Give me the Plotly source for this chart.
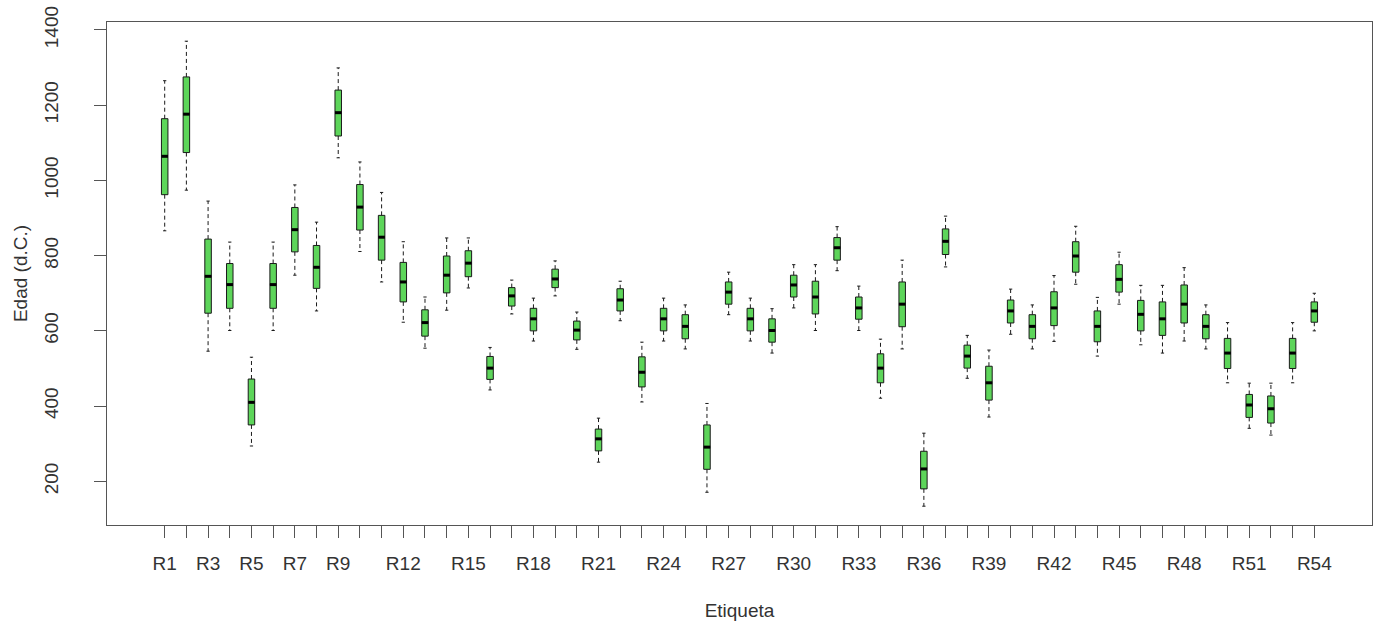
import plotly.graph_objects as go

labels = [f"R{i}" for i in range(1, 55)]
shown_labels = ["R1", "R3", "R5", "R7", "R9", "R12", "R15", "R18", "R21", "R24",
                "R27", "R30", "R33", "R36", "R39", "R42", "R45", "R48", "R51", "R54"]

lower = [866, 974, 546, 601, 294, 601, 748, 653, 1060, 811,
         730, 623, 554, 655, 714, 443, 645, 573, 693, 551,
         251, 627, 411, 573, 552, 171, 643, 573, 541, 661,
         601, 760, 601, 421, 552, 134, 770, 474, 371, 591,
         552, 572, 724, 533, 671, 563, 541, 573, 552, 462,
         341, 323, 462, 600]
q1 = [962, 1074, 647, 660, 350, 660, 810, 713, 1118, 868,
      788, 677, 586, 701, 744, 471, 666, 600, 715, 576,
      281, 653, 451, 600, 579, 232, 671, 600, 570, 690,
      645, 788, 631, 462, 611, 180, 803, 501, 416, 621,
      579, 614, 756, 571, 703, 600, 588, 621, 579, 500,
      370, 355, 500, 623]
med = [1064, 1176, 745, 723, 410, 723, 869, 769, 1180, 929,
       849, 730, 622, 748, 780, 501, 693, 632, 738, 602,
       313, 682, 490, 632, 612, 291, 703, 632, 601, 722,
       690, 821, 661, 501, 671, 233, 838, 533, 462, 653,
       612, 661, 799, 612, 737, 644, 632, 671, 612, 541,
       403, 393, 541, 653]
q3 = [1164, 1275, 844, 779, 472, 779, 928, 827, 1240, 989,
      907, 782, 656, 799, 813, 532, 715, 660, 764, 626,
      339, 712, 531, 660, 643, 350, 730, 660, 632, 748,
      732, 848, 690, 539, 730, 280, 871, 562, 506, 682,
      643, 704, 837, 653, 776, 681, 677, 722, 643, 580,
      431, 427, 580, 677]
upper = [1265, 1370, 945, 836, 530, 836, 988, 889, 1299, 1049,
         968, 837, 690, 847, 847, 556, 735, 687, 786, 650,
         368, 732, 570, 687, 669, 407, 756, 687, 659, 776,
         776, 877, 719, 578, 788, 328, 905, 588, 549, 711,
         669, 747, 878, 689, 809, 721, 721, 768, 669, 622,
         461, 461, 622, 700]

y_ticks = [200, 400, 600, 800, 1000, 1200, 1400]

n = len(labels)
for arr in (lower, q1, med, q3, upper):
    assert len(arr) == n

pos = list(range(1, n + 1))
BOX_W = 0.3
STAPLE = 0.075
MED = BOX_W / 2

FILL = "#5DD55A"
EDGE = "#1a1a1a"
AXIS = "#555555"
TEXT = "#333333"
FONT = "Liberation Sans, Arial, sans-serif"
FS = 19

# whiskers (dashed)
wx, wy = [], []
for x, a, b, c, d in zip(pos, lower, q1, q3, upper):
    wx += [x, x, None, x, x, None]
    wy += [c, d, None, b, a, None]

# staples
sx, sy = [], []
for x, a, d in zip(pos, lower, upper):
    sx += [x - STAPLE, x + STAPLE, None, x - STAPLE, x + STAPLE, None]
    sy += [d, d, None, a, a, None]

# medians
mx, my = [], []
for x, m in zip(pos, med):
    mx += [x - MED, x + MED, None]
    my += [m, m, None]

fig = go.Figure()
fig.add_trace(go.Scatter(x=wx, y=wy, mode="lines",
                         line=dict(color=EDGE, width=1, dash="4px,3px"),
                         hoverinfo="skip", showlegend=False))
fig.add_trace(go.Scatter(x=sx, y=sy, mode="lines",
                         line=dict(color=EDGE, width=1),
                         hoverinfo="skip", showlegend=False))
fig.add_trace(go.Box(x=pos, q1=q1, median=med, q3=q3,
                     lowerfence=q1, upperfence=q3,
                     width=BOX_W, whiskerwidth=0,
                     fillcolor=FILL, line=dict(color=EDGE, width=1),
                     boxpoints=False, showlegend=False, name=""))
fig.add_trace(go.Scatter(x=mx, y=my, mode="lines",
                         line=dict(color="#000000", width=3),
                         hoverinfo="skip", showlegend=False))

ticktext = [lab if lab in shown_labels else "" for lab in labels]

fig.update_layout(
    width=1377, height=625,
    margin=dict(l=107, r=5, t=22, b=100),
    paper_bgcolor="white", plot_bgcolor="white",
    font=dict(family=FONT, size=FS, color=TEXT),
    showlegend=False,
)
fig.update_xaxes(
    range=[-1.66, 56.66], tickmode="array", tickvals=pos, ticktext=ticktext,
    ticks="outside", ticklen=12, tickcolor=AXIS, tickwidth=1,
    ticklabelstandoff=9,
    showline=True, linecolor=AXIS, linewidth=1, mirror=True,
    showgrid=False, zeroline=False,
    title=dict(text="Etiqueta", standoff=30, font=dict(size=FS, color=TEXT)),
    tickfont=dict(size=FS, color=TEXT),
)
fig.update_yaxes(
    range=[84, 1421], tickmode="array", tickvals=y_ticks,
    ticks="outside", ticklen=12, tickcolor=AXIS, tickwidth=1,
    ticklabelstandoff=28,
    showline=True, linecolor=AXIS, linewidth=1, mirror=True,
    showgrid=False, zeroline=False, tickangle=-90,
    title=dict(text="Edad (d.C.)", standoff=8, font=dict(size=FS, color=TEXT)),
    tickfont=dict(size=FS, color=TEXT),
)

fig.write_html("out.html")
